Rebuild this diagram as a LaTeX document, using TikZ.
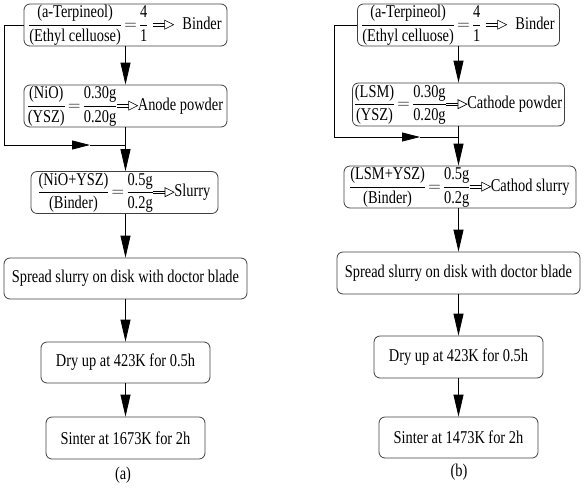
\documentclass[tikz,border=0pt]{standalone}
\usepackage{amsmath}
\usepackage{fontspec}
\setmainfont{Liberation Serif}[FakeStretch=0.8]
\usetikzlibrary{arrows.meta}
\newcommand{\openarr}{\tikz[baseline=-0.55ex,sharp corners]{\draw[line width=0.6pt,sharp corners] (0pt,1.3pt)--(13pt,1.3pt) (0pt,-1.3pt)--(13pt,-1.3pt); \draw[line width=0.6pt,fill=white,sharp corners] (12pt,4.5pt)--(21pt,0pt)--(12pt,-4.5pt)--cycle;}}
\newcommand{\txfrac}[2]{\dfrac{\text{#1}}{\text{#2}}}
\thickmuskip=3.5mu
\nulldelimiterspace=0pt
\begin{document}
\begin{tikzpicture}[x=1pt,y=-1pt,
  boxst/.style={draw=black!75, line width=0.8pt, rounded corners=6pt, inner sep=1pt, align=center, font=\fontsize{18}{20}\selectfont},
  arr/.style={line width=0.8pt, -{Triangle[length=22pt,width=10pt]}},
  midarr/.style={line width=0.8pt, -{Triangle[length=18pt,width=9pt]}},
  lbl/.style={font=\fontsize{18}{20}\selectfont}]
\useasboundingbox (0,0) rectangle (588,490);
% (a)
\node[boxst, minimum width=203pt, minimum height=42pt] (a1) at (125.5,25) {$\txfrac{(a-Terpineol)}{(Ethyl celluose)}=\txfrac{4}{1}$\;\openarr\; Binder};
\node[boxst, minimum width=203pt, minimum height=42pt] (a2) at (125.5,106) {$\txfrac{(NiO)}{(YSZ)}=\txfrac{0.30g}{0.20g}$\openarr Anode powder};
\node[boxst, minimum width=187pt, minimum height=41pt] (a3) at (124.5,192.5) {$\txfrac{(NiO+YSZ)}{(Binder)}=\txfrac{0.5g}{0.2g}$\openarr Slurry};
\node[boxst, minimum width=243pt, minimum height=41pt] (a4) at (125.5,278.5) {Spread slurry on disk with doctor blade};
\node[boxst, minimum width=169pt, minimum height=41pt] (a5) at (125.5,362.5) {Dry up at 423K for 0.5h};
\node[boxst, minimum width=159pt, minimum height=42pt] (a6) at (125.5,438) {Sinter at 1673K for 2h};
\node[lbl] (la) at (123,475) {(a)};
\draw[arr] (a1.south) -- (a2.north);
\draw[arr] (a2.south) -- (a2.south |- a3.north);
\draw[arr] (a3.south -| a2.south) -- (a4.north -| a2.south);
\draw[arr] (a4.south) -- (a5.north);
\draw[arr] (a5.south) -- (a6.north);
\coordinate (fa1) at (4,25);
\coordinate (fa2) at (4,145);
\coordinate (fa3) at (90,145);
\coordinate (fa4) at (125.5,145);
\draw[line width=0.8pt] (a1.west) -- (fa1) -- (fa2);
\draw[midarr] (fa2) -- (fa3);
\draw[line width=0.8pt] (fa3) -- (fa4);
% (b)
\node[boxst, minimum width=202pt, minimum height=42pt] (b1) at (458.5,25) {$\txfrac{(a-Terpineol)}{(Ethyl celluose)}=\txfrac{4}{1}$\;\openarr\; Binder};
\node[boxst, minimum width=212pt, minimum height=43pt] (b2) at (458.5,104.5) {$\txfrac{(LSM)}{(YSZ)}=\txfrac{0.30g}{0.20g}$\openarr Cathode powder};
\node[boxst, minimum width=232pt, minimum height=42pt] (b3) at (460,187) {$\txfrac{(LSM+YSZ)}{(Binder)}=\txfrac{0.5g}{0.2g}$\openarr Cathod slurry};
\node[boxst, minimum width=243pt, minimum height=42pt] (b4) at (458.5,273) {Spread slurry on disk with doctor blade};
\node[boxst, minimum width=169pt, minimum height=42pt] (b5) at (458.5,357) {Dry up at 423K for 0.5h};
\node[boxst, minimum width=159pt, minimum height=41pt] (b6) at (458.5,437.5) {Sinter at 1473K for 2h};
\node[lbl] (lb) at (459,472) {(b)};
\draw[arr] (b1.south) -- (b2.north);
\draw[arr] (b2.south) -- (b2.south |- b3.north);
\draw[arr] (b3.south -| b2.south) -- (b4.north -| b2.south);
\draw[arr] (b4.south) -- (b5.north);
\draw[arr] (b5.south) -- (b6.north);
\coordinate (fb1) at (334,25);
\coordinate (fb2) at (334,137);
\coordinate (fb3) at (420,137);
\coordinate (fb4) at (458.5,137);
\draw[line width=0.8pt] (b1.west) -- (fb1) -- (fb2);
\draw[midarr] (fb2) -- (fb3);
\draw[line width=0.8pt] (fb3) -- (fb4);
\end{tikzpicture}
\end{document}
